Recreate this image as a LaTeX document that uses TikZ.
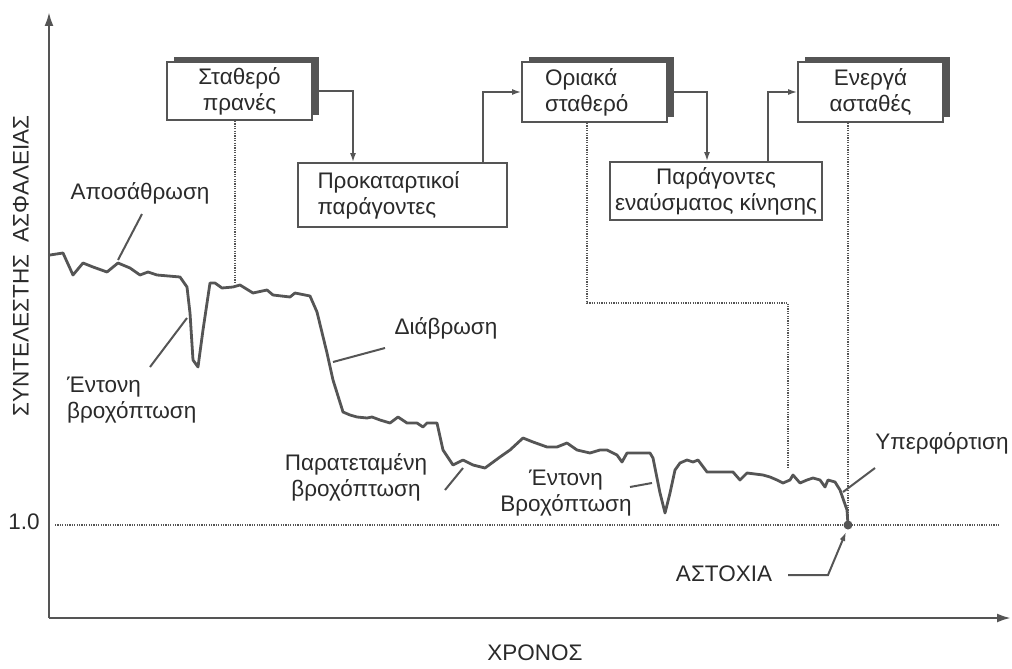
\documentclass[tikz,border=0pt]{standalone}
\usepackage{fontspec}
\setmainfont{Liberation Sans}
\usetikzlibrary{arrows.meta,calc,shadows}
\definecolor{ink}{HTML}{2A2A2A}
\definecolor{ln}{HTML}{555555}
\begin{document}
\begin{tikzpicture}[x=1pt,y=-1pt,
  txt/.style={font=\fontsize{22.5}{26}\selectfont, text=ink, inner sep=0pt, align=center},
  face/.style={draw=ln, line width=1.8pt, fill=white, inner sep=0pt, font=\fontsize{22.5}{26}\selectfont, text=ink},
  raised/.style={face, general shadow={fill=ln, shadow xshift=7pt, shadow yshift=5pt}},
  flow/.style={draw=ln, line width=1.6pt, -{Latex[length=9pt,width=6pt]}},
  curve/.style={draw=ln, line width=2.8pt, line join=round, line cap=round},
  lead/.style={draw=ln, line width=2pt},
  dotl/.style={draw=ln, line width=1.8pt, dash pattern=on 1.2pt off 1.2pt},
  axis/.style={draw=ln, line width=2.4pt},
]
\useasboundingbox (0,0) rectangle (1012,669);

% axes
\coordinate (o) at (49,618);
\coordinate (ytop) at (49,12);
\coordinate (xend) at (1011,618);
\draw[axis,-{Latex[length=14pt,width=9pt]}] (o) -- (ytop);
\draw[axis,-{Latex[length=14pt,width=9pt]}] (o) -- (xend);
\node[txt,rotate=90] (ylab) at (21,266) {ΣΥΝΤΕΛΕΣΤΗΣ\ \ ΑΣΦΑΛΕΙΑΣ};
\node[txt] (xlab) at (535,653) {ΧΡΟΝΟΣ};
\node[txt] (one) at (24,522) {1.0};
\coordinate (h1) at (55,525);
\coordinate (h2) at (1000,525);
\draw[dotl] (h1) -- (h2);

% boxes
\node[raised, minimum width=145pt, minimum height=58pt, align=center] (s1) at (239.5,91) {Σταθερό\\πρανές};
\node[raised, minimum width=145pt, minimum height=60pt, text width=99pt, align=left] (s2) at (594.5,92) {Οριακά\\σταθερό};
\node[raised, minimum width=145pt, minimum height=60pt, align=center] (s3) at (870.5,92) {Ενεργά\\ασταθές};
\node[face, minimum width=209pt, minimum height=64pt, text width=170pt, align=left] (f1) at (402.5,195) {Προκαταρτικοί\\παράγοντες};
\node[face, minimum width=212pt, minimum height=58pt, align=center] (f2) at (716,191) {Παράγοντες\\εναύσματος κίνησης};

% flow connectors
\draw[flow] (s1.east) -| ([xshift=-49.5pt]f1.north);
\draw[flow] ([xshift=80.5pt]f1.north) |- (s2.west);
\draw[flow] (s2.east) -| ([xshift=-9pt]f2.north);
\draw[flow] ([xshift=52pt]f2.north) |- (s3.west);

% safety factor curve
\draw[curve] plot coordinates {(50,255) (63,253) (73,275) (83,263) (93,267) (107,272) (118,263) (130,268) (140,275) (148,272) (157,275) (180,277) (187,287) (190,313) (193,360) (198,367) (203,330) (210,283) (215,283) (222,288) (233,287) (240,285) (253,293) (267,290) (273,295) (290,297) (295,293) (310,296) (317,312) (327,353) (333,380) (343,412) (350,415) (357,417) (367,418) (372,417) (380,420) (390,423) (398,417) (407,423) (417,423) (423,427) (427,423) (437,423) (443,450) (453,465) (463,460) (473,465) (485,468) (500,457) (510,450) (523,438) (533,442) (547,447) (557,447) (567,443) (577,450) (590,453) (600,450) (607,450) (617,455) (622,462) (627,453) (637,453) (650,453) (653,458) (660,493) (665,513) (670,493) (675,470) (680,463) (687,460) (693,462) (698,460) (707,472) (720,472) (733,472) (740,480) (747,473) (763,475) (770,477) (777,480) (783,483) (790,480) (793,475) (800,483) (807,480) (813,478) (820,480) (825,487) (828,480) (835,482) (840,490) (847,510) (848,525)};

% dotted links from states to curve
\coordinate (c1) at (235,284);
\coordinate (k2) at (788,303);
\coordinate (c2) at (788,469);
\coordinate (fail) at (848,525);
\draw[dotl] (s1.south -| c1) -- (c1);
\draw[dotl] ([xshift=-7.5pt]s2.south) |- (k2) -- (c2);
\draw[dotl] (s3.south -| fail) -- (fail);
\fill[ln] (fail) circle (4.5pt);

% labels with leaders
\node[txt] (apo) at (140,193) {Αποσάθρωση};
\coordinate (apoA) at (142,214);
\coordinate (apoB) at (118,260);
\draw[lead] (apoA) -- (apoB);

\node[txt, align=left, anchor=north west] (ent1) at (67,377) {Έντονη\\βροχόπτωση};
\coordinate (ent1A) at (150,367);
\coordinate (ent1B) at (187,318);
\draw[lead] (ent1A) -- (ent1B);

\node[txt] (dia) at (446,328) {Διάβρωση};
\coordinate (diaA) at (385,348);
\coordinate (diaB) at (333,362);
\draw[lead] (diaA) -- (diaB);

\node[txt] (par) at (356,477) {Παρατεταμένη\\βροχόπτωση};
\coordinate (parA) at (445,490);
\coordinate (parB) at (463,468);
\draw[lead] (parA) -- (parB);

\node[txt] (ent2) at (566,493) {Έντονη\\Βροχόπτωση};
\coordinate (ent2A) at (630,487);
\coordinate (ent2B) at (652,483);
\draw[lead] (ent2A) -- (ent2B);

\node[txt] (yper) at (942,443) {Υπερφόρτιση};
\coordinate (yperA) at (875,468);
\coordinate (yperB) at (843,492);
\draw[lead] (yperA) -- (yperB);

\node[txt] (ast) at (724,574) {ΑΣΤΟΧΙΑ};
\coordinate (astA) at (788,575);
\coordinate (astB) at (828,575);
\coordinate (astC) at (846,532);
\draw[lead,-{Latex[length=9pt,width=6pt]}] (astA) -- (astB) -- (astC);
\end{tikzpicture}
\end{document}
